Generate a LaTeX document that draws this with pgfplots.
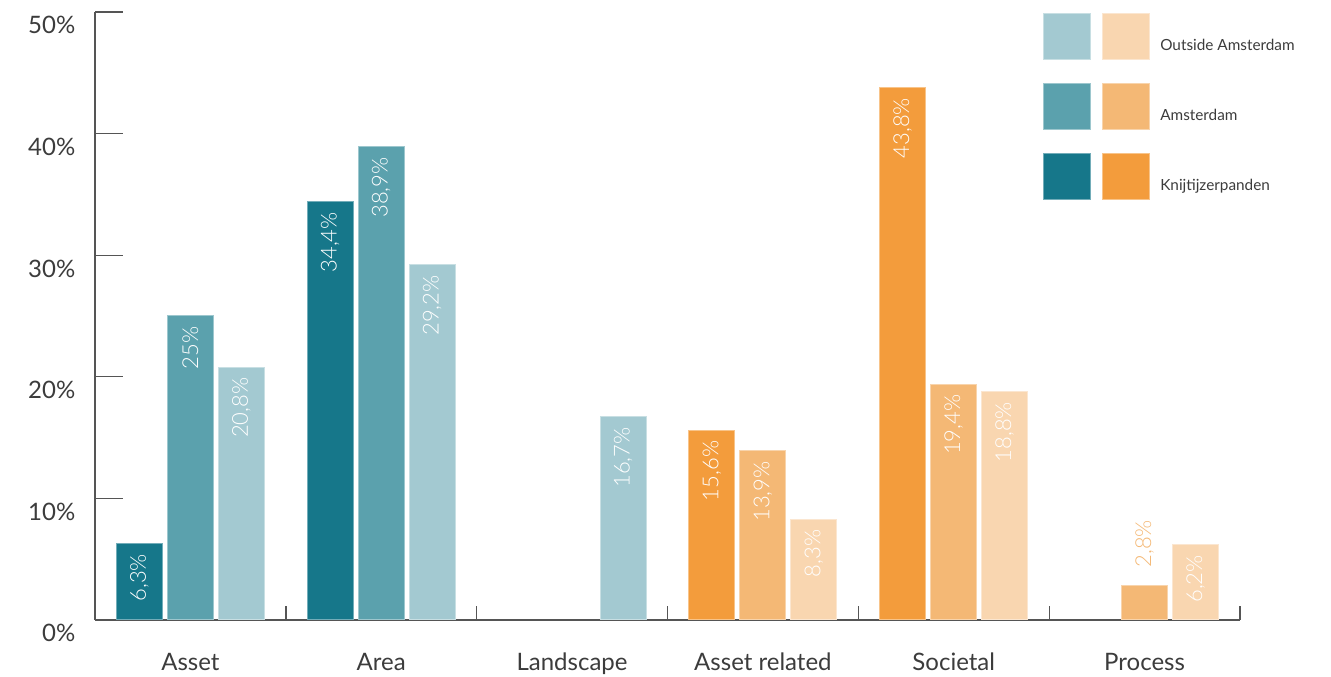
\documentclass[border=0pt]{standalone}
\usepackage{fontspec}
\setmainfont{Lato}
\newfontfamily\lightfont{Lato}[UprightFont=* Light]
\usepackage{pgfplots}
\pgfplotsset{compat=1.18}
\definecolor{tA}{HTML}{16778A}
\definecolor{tB}{HTML}{5BA1AD}
\definecolor{tC}{HTML}{A3C9D1}
\definecolor{oA}{HTML}{F39C3C}
\definecolor{oB}{HTML}{F4B875}
\definecolor{oC}{HTML}{F9D6B0}
\definecolor{txt}{HTML}{3C3C3C}
\definecolor{ax}{HTML}{555555}
\begin{document}
\begin{tikzpicture}
\path[use as bounding box] (-71.25pt,-42.75pt) rectangle (927pt,465pt);
\begin{axis}[
  at={(0pt,0pt)}, anchor=south west,
  scale only axis, width=858.75pt, height=456pt,
  xmin=-0.5, xmax=5.5, ymin=0, ymax=50,
  axis lines=left,
  axis line style={-, draw=ax, line width=1pt},
  ybar, bar width=34.5pt,
  xtick={0,...,5},
  xticklabels={Asset,Area,Landscape,Asset related,Societal,Process},
  xtick style={draw=none},
  minor xtick={0.5,1.5,...,5.5},
  minor tick length=10.5pt,
  minor x tick style={draw=ax, line width=1pt},
  ytick={0,10,...,50},
  yticklabel={\pgfmathprintnumber{\tick}\%},
  /pgf/number format/assume math mode=true,
  ytick style={draw=ax, line width=1pt},
  major tick length=21pt,
  tick align=inside,
  ticklabel style={font=\fontsize{18}{18}\selectfont, text=txt},
  xticklabel style={anchor=base, yshift=-38.25pt},
  yticklabel style={anchor=east, inner sep=0pt, xshift=-14.6pt, yshift=-10pt},
  point meta=explicit symbolic,
  nodes near coords,
  every node near coord/.append style={rotate=90, anchor=east, inner xsep=7.5pt, inner ysep=0pt, text=white, font=\lightfont\fontsize{16.5}{16.5}\selectfont},
  clip=false,
]
\addplot[fill=tA, draw=tA!60!white, line width=0.75pt, bar shift=-38.25pt] coordinates {(0,6.3) [6,3\%] (1,34.4) [34,4\%]};
\addplot[fill=tB, draw=tB!60!white, line width=0.75pt, bar shift=0pt] coordinates {(0,25) [25\%] (1,38.9) [38,9\%]};
\addplot[fill=tC, draw=tC!60!white, line width=0.75pt, bar shift=38.25pt] coordinates {(0,20.8) [20,8\%] (1,29.2) [29,2\%] (2,16.7) [16,7\%]};
\addplot[fill=oA, draw=oA!60!white, line width=0.75pt, bar shift=-38.25pt] coordinates {(3,15.6) [15,6\%] (4,43.8) [43,8\%]};
\addplot[fill=oB, draw=oB!60!white, line width=0.75pt, bar shift=0pt] coordinates {(3,13.9) [13,9\%] (4,19.4) [19,4\%]};
\addplot[fill=oB, draw=oB!60!white, line width=0.75pt, bar shift=0pt,
  every node near coord/.append style={anchor=west, inner xsep=13.5pt, text=oB}] coordinates {(5,2.8) [2,8\%]};
\addplot[fill=oC, draw=oC!60!white, line width=0.75pt, bar shift=38.25pt] coordinates {(3,8.3) [8,3\%] (4,18.8) [18,8\%] (5,6.2) [6,2\%]};
\end{axis}
\begin{scope}[shift={(-71.25pt,465pt)}, x=0.75pt, y=-0.75pt]
  \filldraw[fill=tC, draw=tC!60!white, line width=0.75pt] (1043,14) rectangle (1090,60);
  \filldraw[fill=oC, draw=oC!60!white, line width=0.75pt] (1102,14) rectangle (1149,60);
  \filldraw[fill=tB, draw=tB!60!white, line width=0.75pt] (1043,84) rectangle (1090,130);
  \filldraw[fill=oB, draw=oB!60!white, line width=0.75pt] (1102,84) rectangle (1149,130);
  \filldraw[fill=tA, draw=tA!60!white, line width=0.75pt] (1043,154) rectangle (1090,200);
  \filldraw[fill=oA, draw=oA!60!white, line width=0.75pt] (1102,154) rectangle (1149,200);
  \node[anchor=base west, inner sep=0pt, font=\fontsize{11.5}{11.5}\selectfont, text=txt] at (1160,51) {Outside Amsterdam};
  \node[anchor=base west, inner sep=0pt, font=\fontsize{11.5}{11.5}\selectfont, text=txt] at (1160,121) {Amsterdam};
  \node[anchor=base west, inner sep=0pt, font=\fontsize{11.5}{11.5}\selectfont, text=txt] at (1160,191) {Knijtijzerpanden};
\end{scope}
\end{tikzpicture}
\end{document}
